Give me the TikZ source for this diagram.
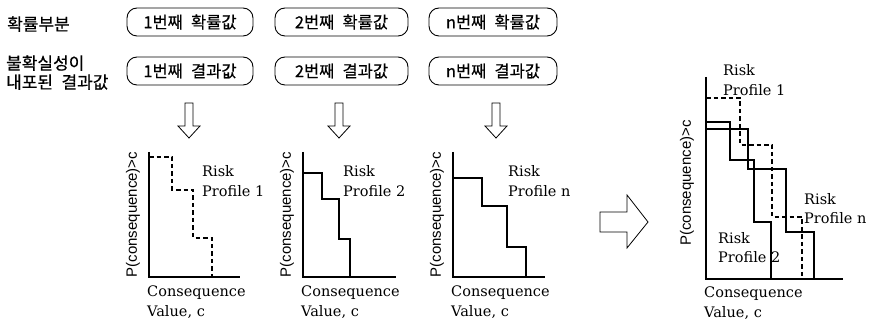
\documentclass[tikz,border=0pt]{standalone}
\usepackage{fontspec}
\newfontfamily\kr[WordSpace=2.2,FakeBold=0.6]{Noto Sans CJK KR}
\newfontfamily\labfont{Liberation Sans}
\newfontfamily\serfont{DejaVu Serif}
\begin{document}
\begin{tikzpicture}[x=1pt,y=-1pt,
  kbox/.style={draw,rounded corners=10pt,line width=0.9pt,minimum height=28pt,inner sep=0pt,
    font=\kr\fontsize{16.5}{19}\selectfont},
  klabel/.style={anchor=west,inner sep=0pt,align=left,font=\kr\fontsize{17}{19}\selectfont},
  rtext/.style={anchor=west,inner sep=0pt,align=left,font=\serfont\fontsize{14.5}{19.5}\selectfont},
  ylab/.style={rotate=90,inner sep=0pt,font=\labfont\fontsize{15}{15}\selectfont},
  axisline/.style={line width=1.1pt},
  stepline/.style={line width=1.2pt},
  dstep/.style={line width=1.2pt,dash pattern=on 4.5pt off 3pt},
  hollow/.style={draw,line width=0.8pt,fill=white}]
\useasboundingbox (0,0) rectangle (871,320);
% left labels
\node[klabel] (lab1) at (7,24) {확률부분};
\node[klabel] (lab2) at (6,72.5) {불확실성이\\내포된 결과값};
% boxes
\node[kbox,minimum width=126pt] (p1) at (190,22) {1번째 확률값};
\node[kbox,minimum width=133pt] (p2) at (341.5,22) {2번째 확률값};
\node[kbox,minimum width=128pt] (p3) at (493,22) {n번째 확률값};
\node[kbox,minimum width=126pt] (c1) at (190,71) {1번째 결과값};
\node[kbox,minimum width=133pt] (c2) at (341.5,71) {2번째 결과값};
\node[kbox,minimum width=128pt] (c3) at (493,71) {n번째 결과값};
% down arrows
\foreach \cx in {189,339,496}{
  \draw[hollow] (\cx-4,103) -- (\cx+4,103) -- (\cx+4,126) -- (\cx+11,126) -- (\cx,138)
    -- (\cx-11,126) -- (\cx-4,126) -- cycle;
}
% right block arrow
\draw[hollow] (600,212) -- (627,212) -- (627,195) -- (648,222) -- (627,248) -- (627,232) -- (600,232) -- cycle;
% plot 1
\draw[axisline] (149,152) -- (149,277) -- (240,277);
\draw[dstep] (149,157) -- (172,157) -- (172,190) -- (193,190) -- (193,238) -- (212,238) -- (212,277);
\node[ylab] (y1) at (133,214.5) {P(consequence)>c};
\node[rtext] (r1) at (202,181) {Risk\\Profile 1};
\node[rtext] (x1) at (147,302) {Consequence\\Value, c};
% plot 2
\draw[axisline] (303,152) -- (303,277) -- (396,277);
\draw[stepline] (303,173) -- (322,173) -- (322,199) -- (339,199) -- (339,239) -- (350,239) -- (350,277);
\node[ylab] (y2) at (287,214.5) {P(consequence)>c};
\node[rtext] (r2) at (343,181) {Risk\\Profile 2};
\node[rtext] (x2) at (301,302) {Consequence\\Value, c};
% plot 3
\draw[axisline] (453,152) -- (453,277) -- (545,277);
\draw[stepline] (453,178) -- (482,178) -- (482,206) -- (507,206) -- (507,247) -- (526,247) -- (526,277);
\node[ylab] (y3) at (437,214.5) {P(consequence)>c};
\node[rtext] (r3) at (508,181) {Risk\\Profile n};
\node[rtext] (x3) at (451,302) {Consequence\\Value, c};
% combined plot
\draw[axisline] (706,77) -- (706,279) -- (843,279);
\draw[dstep] (706,98) -- (740,98) -- (740,145) -- (772,145) -- (772,217) -- (802,217) -- (802,279);
\draw[stepline] (706,122) -- (730,122) -- (730,160) -- (754,160) -- (754,222) -- (771,222) -- (771,279);
\draw[stepline] (706,129) -- (748,129) -- (748,169) -- (786,169) -- (786,232) -- (814,232) -- (814,279);
\node[ylab] (y4) at (687,183) {P(consequence)>c};
\node[rtext] (ra) at (723,80) {Risk\\Profile 1};
\node[rtext] (rb) at (804,208.5) {Risk\\Profile n};
\node[rtext] (rc) at (718,247.5) {Risk\\Profile 2};
\node[rtext] (x4) at (704,303) {Consequence\\Value, c};
\end{tikzpicture}
\end{document}
